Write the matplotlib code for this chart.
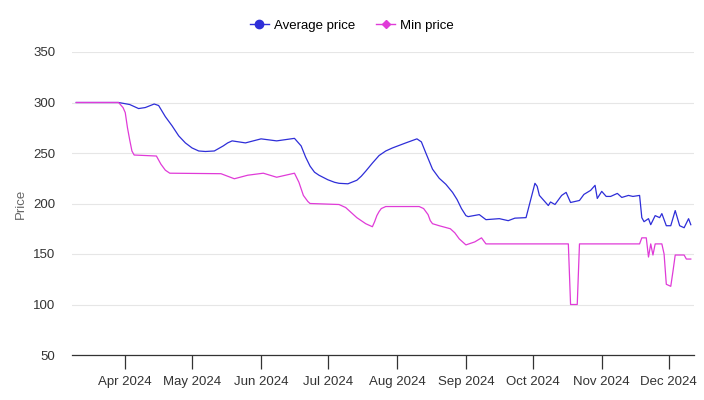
import pandas as pd
import matplotlib.pyplot as plt
import matplotlib.dates as mdates
from matplotlib.lines import Line2D

plt.rcParams["font.family"] = ["Liberation Sans", "DejaVu Sans"]

avg_dates = [
    "2024-03-10", "2024-03-29", "2024-04-03", "2024-04-07", "2024-04-10", "2024-04-14",
    "2024-04-16", "2024-04-19", "2024-04-22", "2024-04-25", "2024-04-28", "2024-05-01",
    "2024-05-04", "2024-05-07", "2024-05-11", "2024-05-15", "2024-05-17", "2024-05-19",
    "2024-05-25", "2024-06-01", "2024-06-08", "2024-06-16", "2024-06-19", "2024-06-21",
    "2024-06-23", "2024-06-25", "2024-06-27", "2024-07-01", "2024-07-04", "2024-07-06",
    "2024-07-10", "2024-07-14", "2024-07-16", "2024-07-18", "2024-07-21", "2024-07-24",
    "2024-07-27", "2024-07-30", "2024-08-05", "2024-08-10", "2024-08-12", "2024-08-14",
    "2024-08-17", "2024-08-20", "2024-08-23", "2024-08-26", "2024-08-28", "2024-08-30",
    "2024-09-01", "2024-09-02", "2024-09-07", "2024-09-10", "2024-09-16", "2024-09-20",
    "2024-09-23", "2024-09-28", "2024-10-02", "2024-10-03", "2024-10-04", "2024-10-08",
    "2024-10-09", "2024-10-11", "2024-10-14", "2024-10-16", "2024-10-18", "2024-10-22",
    "2024-10-24", "2024-10-27", "2024-10-29", "2024-10-30", "2024-11-01", "2024-11-03",
    "2024-11-05", "2024-11-08", "2024-11-10", "2024-11-13", "2024-11-15", "2024-11-18",
    "2024-11-19", "2024-11-20", "2024-11-22", "2024-11-23", "2024-11-25", "2024-11-27",
    "2024-11-28", "2024-11-30", "2024-12-02", "2024-12-04", "2024-12-06", "2024-12-08",
    "2024-12-10", "2024-12-11",
]
avg_price = [
    300, 300, 298, 294, 295, 298.5,
    297, 286, 277, 267, 260, 255,
    252, 251.5, 252, 257, 260, 262,
    260, 264, 262, 264.5, 257, 246,
    237, 231, 228, 223.5, 221, 220,
    219.5, 223, 227, 232, 240, 247.5,
    252, 255, 260, 264, 261, 250,
    234, 225, 219, 211, 204, 195,
    188, 187, 189, 184, 185, 183,
    185.5, 186, 220, 217, 208, 198,
    201.5, 199, 208, 211, 201, 203,
    209, 213, 218, 205, 212, 207,
    207, 210, 206, 208, 207, 208,
    186, 182, 185, 179, 188, 186,
    190, 178, 178, 193, 178, 176,
    185, 179,
]

min_dates = [
    "2024-03-10", "2024-03-29", "2024-03-31", "2024-04-01", "2024-04-02", "2024-04-03",
    "2024-04-04", "2024-04-05", "2024-04-15", "2024-04-16", "2024-04-17", "2024-04-19",
    "2024-04-21", "2024-05-14", "2024-05-20", "2024-05-26", "2024-06-02", "2024-06-08",
    "2024-06-16", "2024-06-18", "2024-06-20", "2024-06-22", "2024-06-23", "2024-07-06",
    "2024-07-09", "2024-07-12", "2024-07-14", "2024-07-18", "2024-07-21", "2024-07-22",
    "2024-07-23", "2024-07-24", "2024-07-25", "2024-07-27", "2024-08-11", "2024-08-13",
    "2024-08-15", "2024-08-16", "2024-08-17", "2024-08-20", "2024-08-25", "2024-08-27",
    "2024-08-29", "2024-08-31", "2024-09-01", "2024-09-05", "2024-09-08", "2024-09-10",
    "2024-10-06", "2024-10-17", "2024-10-18", "2024-10-21", "2024-10-22", "2024-11-18",
    "2024-11-19", "2024-11-21", "2024-11-22", "2024-11-23", "2024-11-24", "2024-11-25",
    "2024-11-28", "2024-11-29", "2024-11-30", "2024-12-02", "2024-12-03", "2024-12-04",
    "2024-12-08", "2024-12-09", "2024-12-11",
]
min_price = [
    300, 300, 295, 290, 275, 263,
    252, 248, 247, 243, 239, 233,
    230, 229.5, 224.5, 228, 230, 226,
    230, 221, 208, 202, 200, 199,
    196, 190, 186, 180, 177, 182,
    188, 192, 195, 197, 197, 195,
    189, 183, 180, 178, 175, 171,
    165, 161, 159, 162, 166, 160,
    160, 160, 100, 100, 160, 160,
    166, 166, 147, 160, 149, 160,
    160, 150, 120, 118, 133, 149,
    149, 145, 145,
]

avg_color = "#2e2ed8"
min_color = "#e03bd8"

fig = plt.figure(figsize=(7.04, 4.00), dpi=100)
ax = fig.add_axes([0.102, 0.1125, 0.884, 0.7575])

ax.plot(pd.to_datetime(avg_dates), avg_price, color=avg_color, linewidth=0.9)
ax.plot(pd.to_datetime(min_dates), min_price, color=min_color, linewidth=0.9)

ax.set_ylim(50, 350)
ax.set_yticks([50, 100, 150, 200, 250, 300, 350])
ax.set_xlim(pd.Timestamp("2024-03-08"), pd.Timestamp("2024-12-12 12:00"))
ax.xaxis.set_major_locator(mdates.MonthLocator())
ax.xaxis.set_major_formatter(mdates.DateFormatter("%b %Y"))

ax.grid(axis="y", color="#e6e6e6", linewidth=0.8)
ax.set_axisbelow(True)
for side in ["top", "right", "left"]:
    ax.spines[side].set_visible(False)
ax.spines["bottom"].set_color("#333333")
ax.spines["bottom"].set_linewidth(0.9)
ax.tick_params(axis="y", length=0, labelsize=9.5, labelcolor="#333333", pad=12)
ax.tick_params(axis="x", length=10, width=0.9, color="#333333",
               labelsize=9.5, labelcolor="#333333", pad=5)
ax.set_ylabel("Price", fontsize=9.5, color="#666666", labelpad=4)

handles = [
    Line2D([], [], color=avg_color, marker="o", markersize=6, linewidth=1),
    Line2D([], [], color=min_color, marker="D", markersize=4.5, linewidth=1),
]
fig.legend(handles, ["Average price", "Min price"], loc="center",
           bbox_to_anchor=(0.5, 0.935), ncol=2, frameon=False,
           fontsize=9.5, handlelength=1.4, columnspacing=1.6, handletextpad=0.4)

plt.savefig("out.png", dpi=100)
